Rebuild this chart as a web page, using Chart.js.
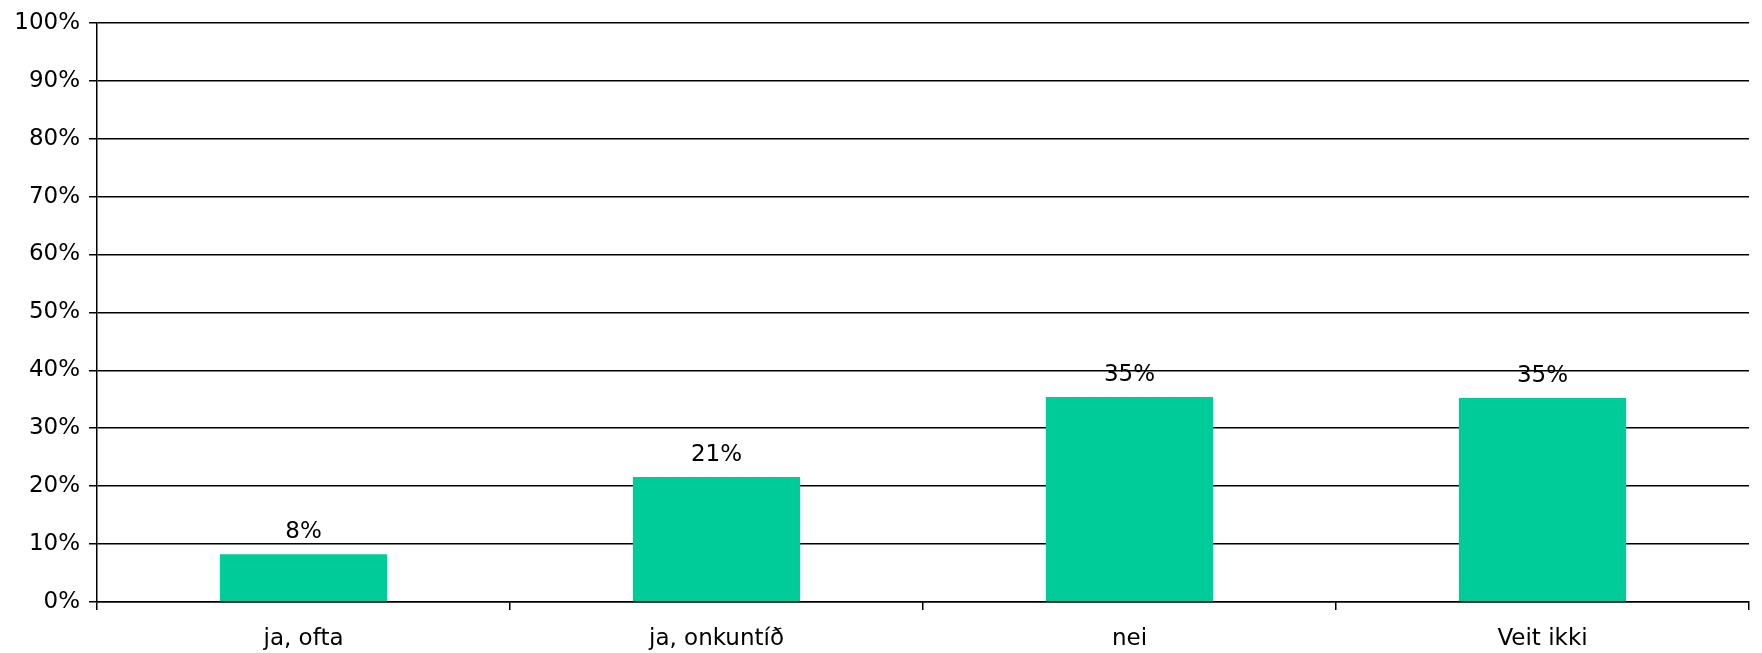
<!DOCTYPE html>
<html>
<head>
<meta charset="utf-8">
<script src="https://cdn.jsdelivr.net/npm/chart.js@4.4.0/dist/chart.umd.min.js"></script>
<style>
html,body{margin:0;padding:0;background:#fff;}
#wrap{width:1762px;height:653px;}
</style>
</head>
<body>
<div id="wrap"><canvas id="c" width="1762" height="653"></canvas></div>
<script>
const categories = ["ja, ofta", "ja, onkuntíð", "nei", "Veit ikki"];
const values = [8.25, 21.6, 35.4, 35.2];
const valueLabels = ["8%", "21%", "35%", "35%"];
const yTicks = [0, 10, 20, 30, 40, 50, 60, 70, 80, 90, 100];

const FONT = "'DejaVu Sans', Verdana, sans-serif";

const dataLabels = {
  id: 'dataLabels',
  afterDatasetsDraw(chart) {
    const ctx = chart.ctx;
    const meta = chart.getDatasetMeta(0);
    ctx.save();
    ctx.font = "23px " + FONT;
    ctx.fillStyle = "#000";
    ctx.textAlign = "center";
    ctx.textBaseline = "alphabetic";
    meta.data.forEach((bar, i) => {
      ctx.fillText(valueLabels[i], bar.x, bar.y - 16);
    });
    ctx.restore();
  }
};

new Chart(document.getElementById('c'), {
  type: 'bar',
  data: {
    labels: categories,
    datasets: [{
      data: values,
      backgroundColor: '#00CC99',
      borderWidth: 0,
      barPercentage: 0.405,
      categoryPercentage: 1.0
    }]
  },
  options: {
    responsive: false,
    animation: false,
    devicePixelRatio: 1,
    layout: { padding: { top: 18, right: 13, left: 0, bottom: 0 } },
    plugins: { legend: { display: false }, tooltip: { enabled: false } },
    scales: {
      x: {
        offset: true,
        grid: { display: true, offset: true, drawOnChartArea: false, drawTicks: true, tickLength: 8, color: '#000', lineWidth: 1.5 },
        border: { display: true, color: '#000', width: 1.5 },
        ticks: { color: '#000', font: { family: FONT, size: 23 }, padding: 15, maxRotation: 0 },
        afterFit(scale) { scale.height = 51; }
      },
      y: {
        min: 0, max: 100,
        afterBuildTicks(scale) { scale.ticks = yTicks.map(v => ({ value: v })); },
        grid: { color: '#000', lineWidth: 1.5, tickLength: 8, drawTicks: true },
        border: { display: true, color: '#000', width: 1.5 },
        ticks: { color: '#000', font: { family: FONT, size: 23 }, padding: 9, callback: v => v + '%' },
        afterFit(scale) { scale.width = 97; }
      }
    }
  },
  plugins: [dataLabels]
});
</script>
</body>
</html>
